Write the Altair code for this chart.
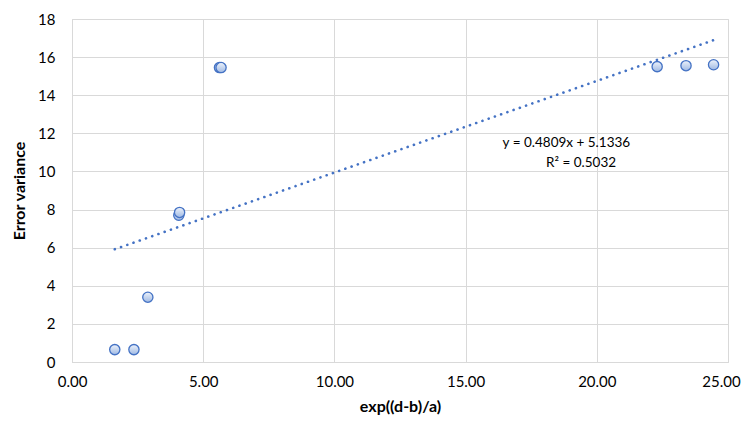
import altair as alt
import pandas as pd

# data
x_vals = [1.63, 2.36, 2.89, 4.07, 4.10, 5.62, 5.68, 22.30, 23.40, 24.45]
y_vals = [0.65, 0.65, 3.40, 7.70, 7.85, 15.45, 15.45, 15.50, 15.55, 15.60]
slope = 0.4809
intercept = 5.1336
eq_labels = ["y = 0.4809x + 5.1336", "R\u00b2 = 0.5032"]
eq_x = [18.84, 19.4]
eq_y = [11.47, 10.42]
x_ticks = [0, 5, 10, 15, 20, 25]
y_ticks = [0, 2, 4, 6, 8, 10, 12, 14, 16, 18]

pts = pd.DataFrame({"x": x_vals, "y": y_vals})
x_lo, x_hi = min(x_vals), max(x_vals)
trend = pd.DataFrame({"x": [x_lo, x_hi],
                      "y": [slope * x_lo + intercept, slope * x_hi + intercept]})
eq = pd.DataFrame({"x": eq_x, "y": eq_y, "t": eq_labels})

FONT = "Lato"
grid = "#D9D9D9"

xs = alt.Scale(domain=[0, 25], nice=False)
ys = alt.Scale(domain=[0, 18], nice=False)

x_axis = alt.Axis(values=x_ticks, format=".2f", grid=True, gridColor=grid,
                  domainColor=grid, ticks=False, labelPadding=12,
                  labelFlush=False, labelOverlap=False,
                  labelOffset=alt.ExprRef("datum.value == 25 ? -7 : 0"),
                  labelFontSize=15, labelColor="#000000", labelFont=FONT,
                  titleFont=FONT, titleFontSize=16, titleFontWeight="bold",
                  titleColor="#000000", titlePadding=9)
y_axis = alt.Axis(values=y_ticks, tickCount=10, grid=True, gridColor=grid,
                  domainColor=grid, ticks=False, labelPadding=17,
                  labelFlush=False, labelOverlap=False,
                  labelFontSize=15, labelColor="#000000", labelFont=FONT,
                  titleFont=FONT, titleFontSize=16, titleFontWeight="bold",
                  titleColor="#000000", titlePadding=10)

xenc = alt.X("x:Q", scale=xs, title="exp((d-b)/a)", axis=x_axis)
yenc = alt.Y("y:Q", scale=ys, title="Error variance", axis=y_axis)

line = alt.Chart(trend).mark_line(color="#4472C4", strokeWidth=2.6,
                                  strokeDash=[0.1, 6.5], strokeCap="round").encode(
    x=xenc, y=yenc)

points = alt.Chart(pts).mark_circle(
    size=105, opacity=1,
    fill=alt.Gradient(gradient="linear", x1=0, y1=0, x2=0, y2=1,
                      stops=[alt.GradientStop(offset=0, color="#EEF3FB"),
                             alt.GradientStop(offset=1, color="#9FB9E3")]),
    stroke="#4472C4", strokeWidth=1.3).encode(x=xenc, y=yenc)

text = alt.Chart(eq).mark_text(font=FONT, fontSize=13.5, color="#000000").encode(
    x=xenc, y=yenc, text="t:N")

chart = alt.layer(points, line, text).properties(
    width=656, height=343,
    autosize=alt.AutoSizeParams(type="none"),
    padding={"left": 64, "top": 11, "right": 13, "bottom": 53},
).configure_view(stroke=grid).configure(background="white")

chart.save("out.html", embed_options={"renderer": "svg", "actions": False})
